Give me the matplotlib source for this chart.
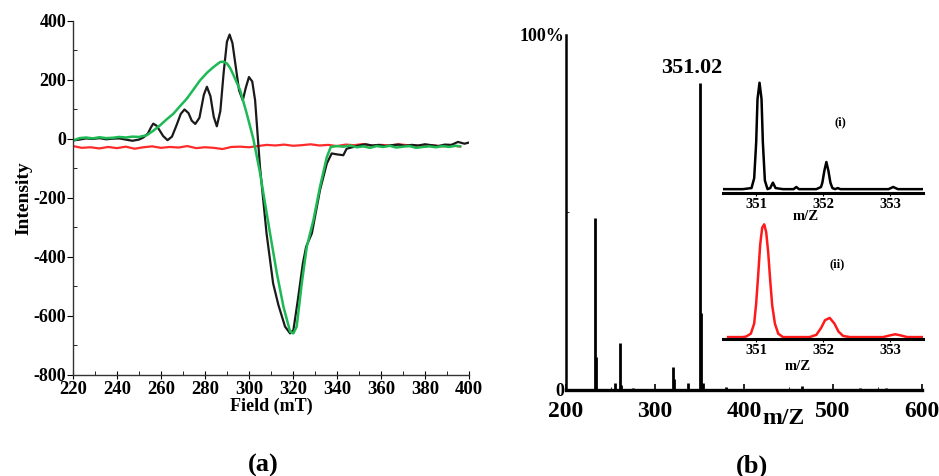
import matplotlib
matplotlib.use('Agg')
import matplotlib.pyplot as plt
from matplotlib.ticker import MultipleLocator

plt.rcParams['font.family'] = 'Liberation Serif'
plt.rcParams['font.weight'] = 'bold'
plt.rcParams['axes.unicode_minus'] = False

# (a) EPR spectra: field (mT) vs intensity
black_x = [220, 223, 226, 229, 232, 235, 238, 241, 244, 247, 250, 252, 254, 255.5, 256.5, 258, 259.5,
           261, 263, 265, 267, 269, 270.7, 272.5, 274, 275.6, 277.5, 279.5, 280.9, 282.5, 284, 285.4,
           287, 288.5, 290, 291.2, 292.5, 294, 295.5, 297.2, 298.5, 300, 301.5, 302.8, 305, 308, 311,
           313.4, 316.4, 318.7, 320.2, 322.2, 324.5, 326, 328.6, 332.3, 335.4, 337.6, 339.9, 342.9,
           344.4, 347.5, 350, 353, 356, 359, 362, 365, 368, 371, 374, 377, 380, 383, 386, 389, 392,
           395, 398, 400]
black_y = [-5, -2, 2, 0, 3, -1, 1, 2, -2, -6, -2, 5, 18, 40, 52, 45, 28, 10, -4, 8, 45, 85, 100,
           88, 62, 51, 72, 150, 177, 145, 75, 43, 95, 225, 330, 354, 325, 245, 165, 131, 172, 210,
           195, 131, -94, -320, -490, -563, -636, -659, -648, -547, -422, -365, -320, -173, -83,
           -49, -52, -55, -33, -27, -22, -18, -22, -20, -24, -21, -19, -23, -20, -22, -18, -21, -24,
           -19, -20, -10, -16, -12]

green_x = [220, 223, 226, 229, 232, 235, 238, 241, 244, 247, 250, 253.6, 256.5, 259.7, 262.5, 265.7,
           268.5, 271.8, 275, 277.8, 281, 283.9, 286.9, 288.5, 290, 291.5, 293, 296, 299, 302, 305,
           308, 310.5, 312.7, 315.7, 318.7, 320.2, 321.7, 324, 326.3, 329.3, 332.3, 335.4, 337.2,
           339.9, 343, 346, 349, 352, 355, 358, 361, 364, 367, 370, 373, 376, 379, 382, 385, 388,
           391, 394, 396]
green_y = [-5, 3, 5, 2, 6, 3, 4, 7, 5, 8, 7, 13, 28, 47, 66, 86, 110, 137, 170, 199, 225, 244, 261,
           262, 256, 240, 216, 165, 86, 0, -113, -249, -360, -456, -569, -653, -659, -636, -490,
           -365, -275, -162, -61, -27, -24, -26, -22, -28, -25, -30, -24, -27, -23, -29, -26, -24,
           -30, -27, -25, -28, -24, -27, -23, -25]

red_x = [220, 224, 228, 232, 236, 240, 244, 248, 252, 256, 260, 264, 268, 272, 276, 280, 284, 288,
         292, 296, 300, 304, 308, 312, 316, 320, 324, 328, 332, 336, 340, 344, 348, 352, 356, 360,
         364, 368, 372, 376, 380, 384, 388, 392, 396]
red_y = [-24, -30, -28, -32, -27, -31, -26, -33, -28, -25, -30, -27, -29, -24, -31, -28, -30, -34,
         -27, -26, -28, -24, -20, -22, -19, -23, -21, -18, -22, -20, -24, -19, -21, -17, -23, -20,
         -22, -18, -21, -24, -20, -22, -25, -21, -26]

# (b) mass spectrum: m/z vs relative abundance (%)
ms_mz = [220, 232.6, 233.8, 254.5, 260.7, 262, 275, 319.9, 321.5, 337, 351.0, 352.2, 353.5, 365,
         380, 465, 530, 560, 586]
ms_rel = [0.4, 48.4, 9.4, 2.0, 13.1, 1.5, 0.5, 6.4, 3.0, 2.0, 86.6, 21.6, 2.0, 0.4, 0.8, 1.0,
          0.5, 0.7, 0.3]

# inset (i): measured isotope pattern
iso_i_x = [350.5, 350.8, 350.93, 350.97, 351.0, 351.02, 351.05, 351.08, 351.1, 351.13, 351.17,
           351.21, 351.25, 351.29, 351.4, 351.56, 351.6, 351.64, 351.9, 351.97, 351.99, 352.02,
           352.05, 352.08, 352.11, 352.14, 352.18, 352.22, 352.26, 352.5, 352.98, 353.05, 353.12,
           353.5]
iso_i_y = [0.02, 0.02, 0.03, 0.12, 0.45, 0.85, 1.0, 0.85, 0.45, 0.1, 0.02, 0.03, 0.08, 0.03, 0.02,
           0.02, 0.04, 0.02, 0.02, 0.04, 0.08, 0.19, 0.27, 0.19, 0.08, 0.03, 0.02, 0.03, 0.02, 0.02,
           0.02, 0.04, 0.02, 0.02]

# inset (ii): simulated isotope pattern
iso_ii_x = [350.58, 350.8, 350.85, 350.92, 350.97, 351.0, 351.03, 351.06, 351.09, 351.12, 351.15,
            351.18, 351.21, 351.24, 351.28, 351.33, 351.4, 351.8, 351.9, 351.97, 352.03, 352.1,
            352.17, 352.23, 352.3, 352.4, 352.9, 353.0, 353.08, 353.16, 353.26, 353.5]
iso_ii_y = [0.0, 0.0, 0.005, 0.03, 0.12, 0.3, 0.55, 0.82, 0.97, 1.0, 0.93, 0.75, 0.5, 0.28, 0.12,
            0.03, 0.0, 0.0, 0.02, 0.08, 0.15, 0.17, 0.12, 0.05, 0.01, 0.0, 0.0, 0.015, 0.025,
            0.015, 0.0, 0.0]

fig = plt.figure(figsize=(9.39, 4.76), dpi=100)

# ---- panel (a)
ax = fig.add_axes([0.0777, 0.2122, 0.4217, 0.7437])
ax.plot(red_x, red_y, color='#ff2a2a', lw=1.6)
ax.plot(black_x, black_y, color='#1a1a1a', lw=1.6)
ax.plot(green_x, green_y, color='#1db954', lw=1.8)
ax.set_xlim(220, 400)
ax.set_ylim(-800, 400)
ax.spines['top'].set_visible(False)
ax.spines['right'].set_visible(False)
for s in ['left', 'bottom']:
    ax.spines[s].set_color('#333333')
    ax.spines[s].set_linewidth(1.0)
ax.xaxis.set_major_locator(MultipleLocator(20))
ax.xaxis.set_minor_locator(MultipleLocator(10))
ax.yaxis.set_major_locator(MultipleLocator(200))
ax.yaxis.set_minor_locator(MultipleLocator(100))
ax.tick_params(axis='x', which='major', direction='inout', length=6, labelsize=13.5, pad=1)
ax.tick_params(axis='x', which='minor', direction='in', length=3)
ax.tick_params(axis='y', which='major', direction='out', length=4, labelsize=13, pad=1)
ax.tick_params(axis='y', which='minor', direction='in', length=3)
ax.set_xlabel('Field (mT)', fontsize=13, fontweight='bold', labelpad=0)
ax.set_ylabel('Intensity', fontsize=14, fontweight='bold', labelpad=1)

# ---- panel (b)
bx = fig.add_axes([0.6028, 0.1807, 0.3791, 0.7458])
bx.vlines(ms_mz, 0, ms_rel, color='black', lw=2.0)
bx.set_xlim(200, 600)
bx.set_ylim(0, 100)
bx.spines['top'].set_visible(False)
bx.spines['right'].set_visible(False)
bx.spines['left'].set_linewidth(1.8)
bx.spines['bottom'].set_linewidth(2.4)
bx.xaxis.set_major_locator(MultipleLocator(100))
bx.xaxis.set_minor_locator(MultipleLocator(50))
bx.set_yticks([0, 100])
bx.set_yticklabels(['0', '100%'])
bx.set_yticks([50], minor=True)
bx.tick_params(axis='x', which='major', direction='in', length=4, width=1.2, labelsize=17, pad=8)
bx.tick_params(axis='x', which='minor', direction='in', length=2)
bx.tick_params(axis='y', which='major', length=0, labelsize=13, pad=1)
bx.tick_params(axis='y', which='minor', direction='in', length=2)
bx.text(341, 90.7, '351.02', ha='center', va='center', fontsize=16, fontweight='bold')
fig.text(783 / 939, 1 - 419 / 476, 'm/Z', ha='center', va='center', fontsize=17, fontweight='bold')

# ---- insets
for rect, xs, ys, col, tag, tag_xy, lab_xy in [
        ([0.7697, 0.5935, 0.2136, 0.2418], iso_i_x, iso_i_y, 'black', '(i)', (840, 122), (806, 217)),
        ([0.7697, 0.2871, 0.2136, 0.2511], iso_ii_x, iso_ii_y, '#ff1a1a', '(ii)', (837, 264), (798, 367))]:
    ia = fig.add_axes(rect)
    ia.patch.set_alpha(0)
    ia.plot(xs, ys, color=col, lw=1.8)
    ia.set_xlim(350.5, 353.5)
    ia.set_ylim(-0.02, 1.04)
    for s in ['top', 'right', 'left']:
        ia.spines[s].set_visible(False)
    ia.spines['bottom'].set_linewidth(2.2)
    ia.set_yticks([])
    ia.set_xticks([351, 352, 353])
    ia.tick_params(axis='x', length=2, labelsize=10.5, pad=1)
    fig.text(tag_xy[0] / 939, 1 - tag_xy[1] / 476, tag, ha='center', va='center',
             fontsize=9, fontweight='bold')
    fig.text(lab_xy[0] / 939, 1 - lab_xy[1] / 476, 'm/Z', ha='center', va='center',
             fontsize=10.5, fontweight='bold')

fig.text(263 / 939, 1 - 465 / 476, '(a)', ha='center', va='center', fontsize=19, fontweight='bold')
fig.text(752 / 939, 1 - 466 / 476, '(b)', ha='center', va='center', fontsize=19, fontweight='bold')

fig.savefig('out.png', dpi=100)
